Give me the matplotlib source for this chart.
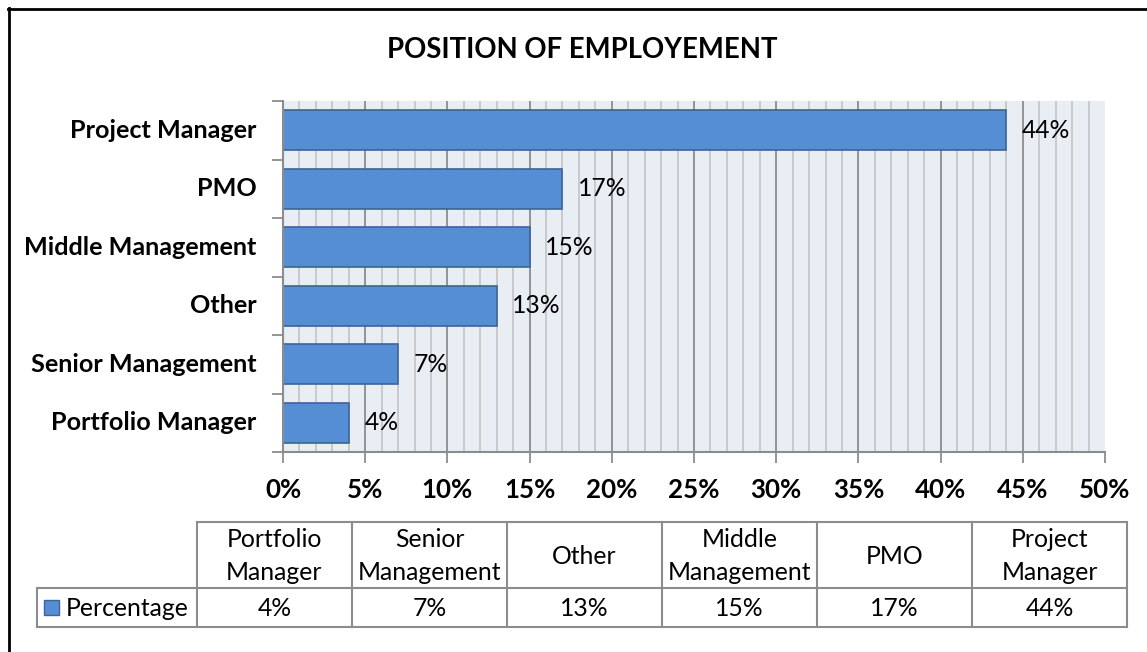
import matplotlib
matplotlib.use("Agg")
import matplotlib.pyplot as plt
from matplotlib.lines import Line2D
from matplotlib.patches import Rectangle
import numpy as np

categories = ["Portfolio Manager", "Senior Management", "Other",
              "Middle Management", "PMO", "Project Manager"]
header_labels = ["Portfolio\nManager", "Senior\nManagement", "Other",
                 "Middle\nManagement", "PMO", "Project\nManager"]
values = [4, 7, 13, 15, 17, 44]
series_name = "Percentage"
xticks = list(range(0, 51, 5))

plt.rcParams['font.family'] = ['Lato', 'DejaVu Sans']

W, H = 1147, 652
fig = plt.figure(figsize=(W / 100, H / 100), dpi=100)

def fx(px):
    return px / W

def fy(py):
    return 1 - py / H

FS = 17.8

# outer frame (left and top only visible)
fig.add_artist(Line2D([fx(9), fx(9)], [fy(8), fy(652)], color="black", lw=2))
fig.add_artist(Line2D([fx(8), fx(1147)], [fy(9), fy(9)], color="black", lw=2))

# title
fig.text(fx(582), fy(50), "POSITION OF EMPLOYEMENT", ha="center", va="center",
         fontsize=19.8, fontweight="bold")

# main axes
left, right, top, bottom = 283, 1105, 101, 452
ax = fig.add_axes([fx(left), fy(bottom), fx(right - left), (bottom - top) / H])
ax.set_facecolor("#E9EDF4")
n = len(categories)
y = np.arange(n)
bar_color = "#558ED5"
ax.barh(y, values, height=0.68, color=bar_color, edgecolor="#3C6496", linewidth=1.2, zorder=3)
ax.set_xlim(0, 50)
ax.set_ylim(-0.5, n - 0.5)

for v in range(1, 50):
    if v % 5 == 0:
        ax.axvline(v, color="#8C8C8C", lw=1.3, zorder=1)
    else:
        ax.axvline(v, color="#C4C4C4", lw=1.2, zorder=1)

for yi, v in zip(y, values):
    ax.text(v + 0.95, yi, f"{v}%", va="center", ha="left", fontsize=FS, zorder=4)

ax.set_xticks(xticks)
ax.set_xticklabels([f"{t}%" for t in xticks], fontsize=18.6, fontweight="bold")
ax.set_yticks(np.arange(-0.5, n, 1.0))
ax.set_yticklabels([])
for yi, c in zip(y, categories):
    ax.text(-1.6, yi, c, ha="right", va="center", fontsize=FS + 0.3, fontweight="bold")
ax.tick_params(axis="x", direction="out", length=8, width=1.3, color="#8C8C8C", pad=11)
ax.tick_params(axis="y", direction="out", length=8, width=1.3, color="#8C8C8C")
for s in ["top", "right"]:
    ax.spines[s].set_visible(False)
ax.spines["left"].set_color("#8C8C8C")
ax.spines["left"].set_linewidth(1.5)
ax.spines["bottom"].set_color("#8C8C8C")
ax.spines["bottom"].set_linewidth(1.5)
ax.spines["left"].set_zorder(5)

# data table
tab = fig.add_axes([0, 0, 1, 1], facecolor="none")
tab.set_xlim(0, W)
tab.set_ylim(H, 0)
tab.axis("off")
t_top, t_mid, t_bot = 522, 588, 627
lab_left = 37
col0 = 197
colw = 155
line_c = "#8C8C8C"
right_edge = col0 + colw * n
tab.plot([col0, right_edge], [t_top, t_top], color=line_c, lw=1.5)
tab.plot([lab_left, right_edge], [t_mid, t_mid], color=line_c, lw=1.5)
tab.plot([lab_left, right_edge], [t_bot, t_bot], color=line_c, lw=1.5)
tab.plot([lab_left, lab_left], [t_mid, t_bot], color=line_c, lw=1.5)
for i in range(n + 1):
    xe = col0 + colw * i
    tab.plot([xe, xe], [t_top, t_bot], color=line_c, lw=1.5)
for i in range(n):
    xc = col0 + colw * (i + 0.5)
    tab.text(xc, (t_top + t_mid) / 2 + 1, header_labels[i], ha="center", va="center",
             fontsize=FS, linespacing=1.5)
    tab.text(xc, (t_mid + t_bot) / 2 + 1, f"{values[i]}%", ha="center", va="center",
             fontsize=FS)
tab.add_patch(Rectangle((44, 600), 15, 15, facecolor=bar_color, edgecolor="#3C6496", lw=1))
tab.text(66, (t_mid + t_bot) / 2 + 1, series_name, ha="left", va="center", fontsize=FS)

fig.savefig("out.png", dpi=100)
